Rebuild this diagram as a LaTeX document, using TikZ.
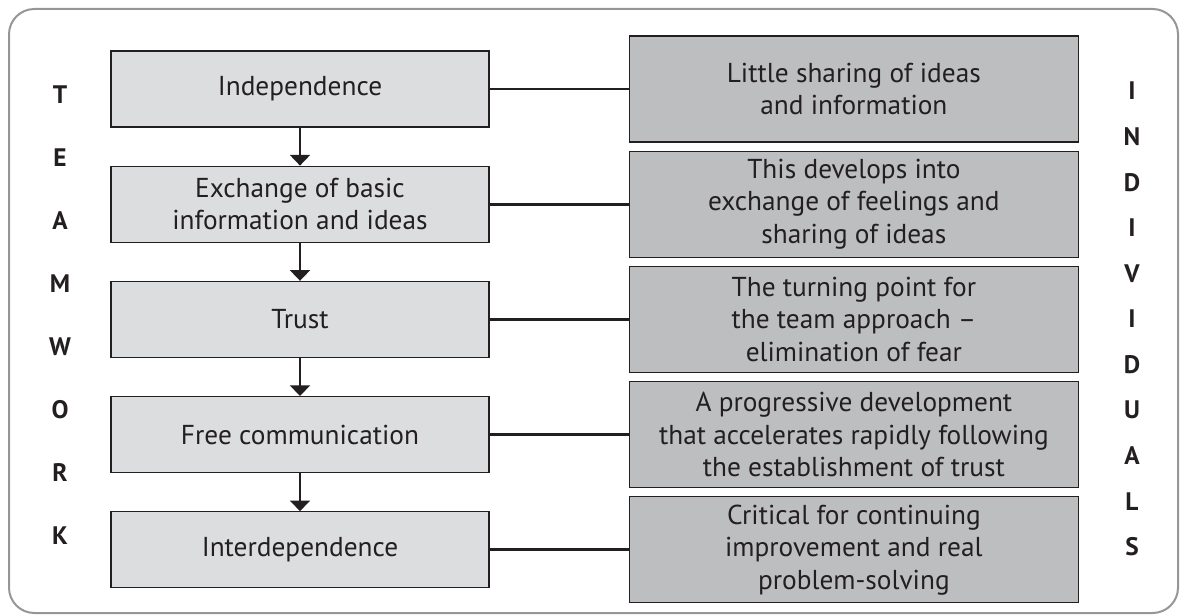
\documentclass[tikz,border=0pt]{standalone}
\usepackage{fontspec}
\setmainfont{PT Sans}
\usetikzlibrary{positioning,arrows.meta}

\definecolor{stagefill}{RGB}{220,221,223}
\definecolor{notefill}{RGB}{189,190,192}
\definecolor{framegray}{RGB}{150,150,150}
\definecolor{ink}{RGB}{35,31,32}

\tikzset{
  stage/.style={draw=ink, line width=0.9pt, fill=stagefill, text=ink, minimum width=283.5pt, minimum height=57pt, align=center, inner sep=2pt, font=\fontsize{20.5}{24.4}\selectfont},
  note/.style={draw=ink, line width=0.9pt, fill=notefill, text=ink, minimum width=337pt, minimum height=79.5pt, align=center, inner sep=2pt, font=\fontsize{20.5}{24.4}\selectfont},
  letter/.style={text=ink, font=\fontsize{19}{20}\selectfont\bfseries, inner sep=0pt},
  link/.style={ink, line width=2pt}
}

\begin{document}
\begin{tikzpicture}[x=0.75pt, y=-0.75pt, >={Triangle[width=15pt, length=8pt]}]
\useasboundingbox (0,0) rectangle (1186,616);
\draw [framegray, line width=1.5pt, rounded corners=19pt] (9,9) rectangle (1178,613);

% stages
\node (s1) at (300,89) [stage] {Independence};
\node (s2) [stage, below=28.5pt of s1] {Exchange of basic\\information and ideas};
\node (s3) [stage, below=28.5pt of s2] {Trust};
\node (s4) [stage, below=28.5pt of s3] {Free communication};
\node (s5) [stage, below=28.5pt of s4] {Interdependence};

% notes
\node (n1) [note, right=104.25pt of s1] {Little sharing of ideas\\and information};
\node (n2) [note, right=104.25pt of s2] {This develops into\\exchange of feelings and\\sharing of ideas};
\node (n3) [note, right=104.25pt of s3] {The turning point for\\the team approach --\\elimination of fear};
\node (n4) [note, right=104.25pt of s4] {A progressive development\\that accelerates rapidly following\\the establishment of trust};
\node (n5) [note, right=104.25pt of s5] {Critical for continuing\\improvement and real\\problem-solving};

\foreach \i/\j in {1/2,2/3,3/4,4/5}
  \draw [->, link, line width=1.5pt] (s\i) -- (s\j);
\foreach \i in {1,...,5}
  \draw [link] (s\i) -- (n\i);

% side words
\foreach \c [count=\k from 0] in {T,E,A,M,W,O,R,K}
  \node (tw\k) at (60,95+63*\k) [letter] {\c};
\foreach \c [count=\k from 0] in {I,N,D,I,V,I,D,U,A,L,S}
  \node (iv\k) at (1132,91+45.6*\k) [letter] {\c};
\end{tikzpicture}
\end{document}
